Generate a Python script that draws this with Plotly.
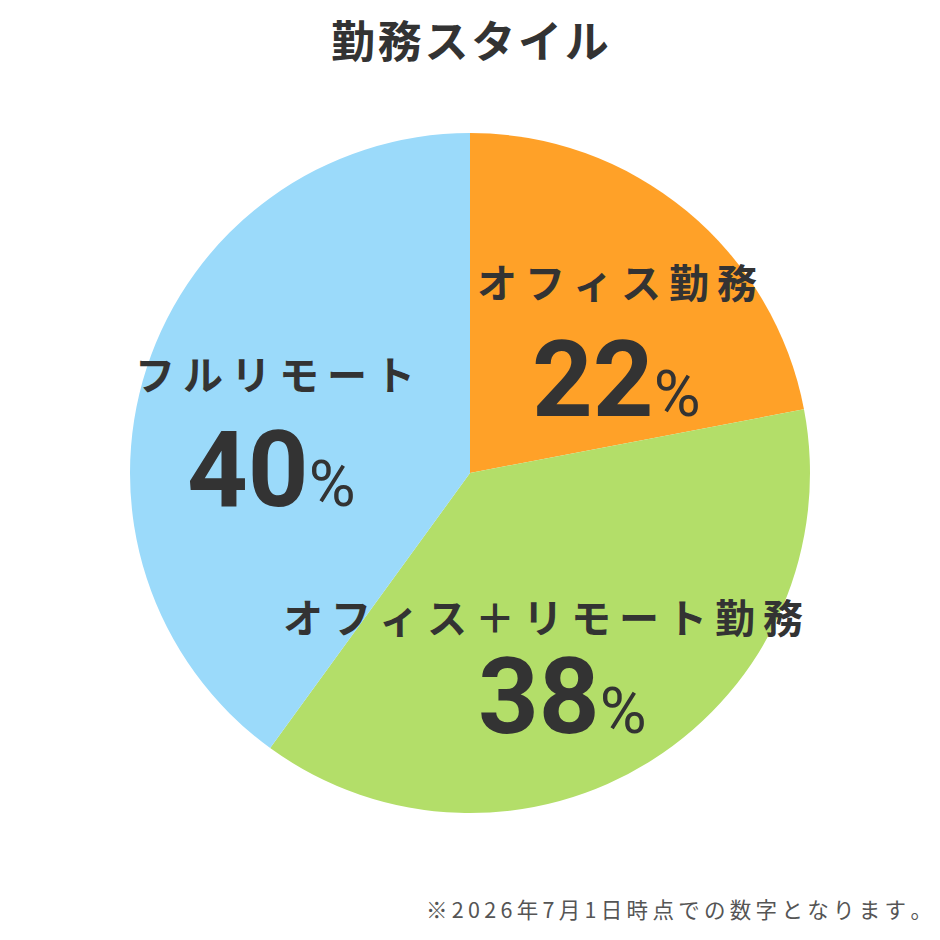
import plotly.graph_objects as go

# data
labels = ["オフィス勤務", "オフィス＋リモート勤務", "フルリモート"]
values = [22, 38, 40]
colors = ["#FFA128", "#B3DE69", "#9BDAFA"]
title_txt = "勤務スタイル"
note_txt = "※2026年7月1日時点での数字となります。"

# label placement (pixels in the 940x940 screenshot)
label_pos = [(617, 281), (543, 616), (275, 373)]
num_pos = [(616, 380), (562, 697), (271, 470)]

W = H = 940
OFF = 8  # page body margin
INK = "#333333"
JP = "Noto Sans CJK JP"


def spaced(s, sp="\u2009"):
    return sp.join(list(s))


def px(x, y):
    return (x - OFF) / W, 1 - (y - OFF) / H


fig = go.Figure()
x0, y0 = px(130, 813)
x1, y1 = px(810, 133)
fig.add_trace(go.Pie(
    labels=labels, values=values,
    marker=dict(colors=colors, line=dict(width=0)),
    sort=False, direction="clockwise", rotation=0,
    textinfo="none", hoverinfo="label+percent",
    domain=dict(x=[x0, x1], y=[y0, y1]),
    showlegend=False,
))

annos = []
for lab, v, lp, npos in zip(labels, values, label_pos, num_pos):
    x, y = px(*lp)
    annos.append(dict(
        x=x, y=y, xref="paper", yref="paper", showarrow=False,
        text=spaced(lab), xanchor="center", yanchor="middle", borderpad=0,
        font=dict(family=JP, size=40, color=INK, weight="bold"),
    ))
    x, y = px(*npos)
    annos.append(dict(
        x=x, y=y, xref="paper", yref="paper", showarrow=False,
        text=(f"{v}<span style='font-size:64px;"
              f"font-weight:normal'>%</span>"),
        xanchor="center", yanchor="middle", borderpad=0,
        font=dict(family="Roboto", size=106, color=INK, weight="bold"),
    ))

x, y = px(470, 39)
annos.append(dict(
    x=x, y=y, xref="paper", yref="paper", showarrow=False,
    text=spaced(title_txt, "\u200a"), xanchor="center", yanchor="middle",
    borderpad=0,
    font=dict(family=JP, size=44, color=INK, weight="bold"),
))
x, y = px(934, 908)
annos.append(dict(
    x=x, y=y, xref="paper", yref="paper", showarrow=False,
    text=spaced(note_txt), xanchor="right", yanchor="middle",
    font=dict(family=JP, size=21.5, color="#555555"),
))

fig.update_layout(
    width=W, height=H,
    margin=dict(l=0, r=0, t=0, b=0),
    paper_bgcolor="white", plot_bgcolor="white",
    annotations=annos,
)
fig.write_html("out.html")
